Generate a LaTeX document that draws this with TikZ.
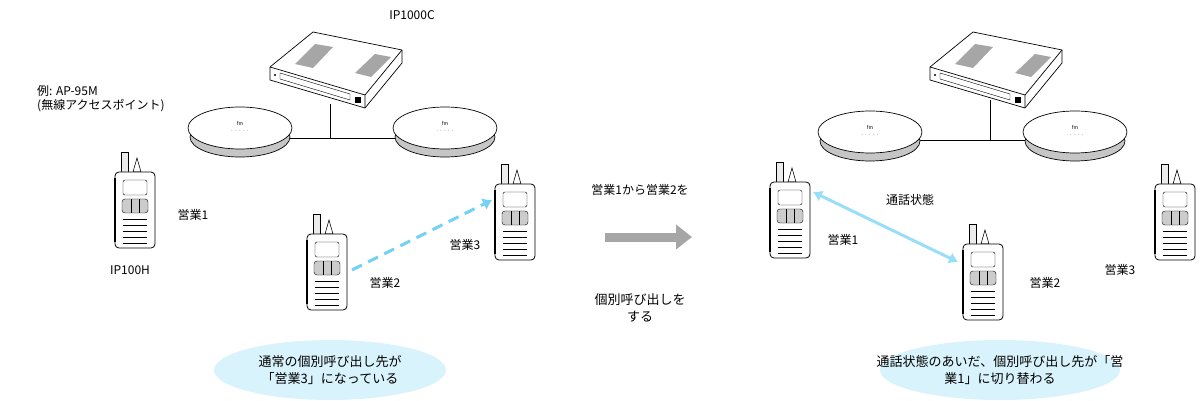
\documentclass[tikz,border=0pt]{standalone}
\usepackage{fontspec}
\setmainfont{Noto Sans CJK JP}
\usetikzlibrary{arrows.meta,shapes.geometric}
\tikzset{
 lbl/.style={font=\fontsize{12}{14}\selectfont, inner sep=1pt},
 big/.style={font=\fontsize{13}{17}\selectfont, inner sep=1pt},
 bubble/.style={fill=cyan!15, draw=none},
 pics/radio/.style={code={
  \draw[fill=gray!15, line width=0.6pt] (-14,-48) rectangle (-7,-25);
  \draw[fill=white, line width=0.6pt] (-2,-28) -- (2,-42) -- (6,-28) -- cycle;
  \draw[fill=white, line width=0.8pt, rounded corners=4pt] (-20,-28) rectangle (20,48);
  \draw[fill=white, rounded corners=2pt] (-12,-20) rectangle (12,-5);
  \draw[fill=gray!40, rounded corners=3pt] (-13,-1) rectangle (13,13);
  \draw (-4,-1) -- (-4,13) (4,-1) -- (4,13);
  \foreach \yy in {19,25,31,37,43} \draw (-12,\yy) -- (12,\yy);
  \draw[line width=1.5pt] (-20,-22) -- (-20,42);
 }},
 pics/ap/.style={code={
  \draw[fill=gray!45, line width=0.7pt] (0,9) ellipse (50 and 20);
  \draw[fill=white, line width=0.7pt] (0,0) ellipse (52 and 21);
  \node[font=\tiny] at (0,-5) {\textit{fm}};
  \node[font=\tiny] at (0,3) {· · · · ·};
 }},
 pics/router/.style={code={
  \draw[fill=white, line width=0.7pt, line join=round] (-55,-3) -- (-12,-38) -- (77,-20) -- (77,-7) -- (40,38) -- (-55,10) -- cycle;
  \draw[line width=0.7pt, line join=round] (-55,-3) -- (40,25) -- (77,-20) (40,25) -- (40,38);
  \fill[gray!70] (-30,-6) -- (-10,-26) -- (8,-23) -- (-12,-2) -- cycle;
  \fill[gray!70] (30,3) -- (50,-16) -- (66,-13) -- (46,7) -- cycle;
  \draw (-45,3) -- (25,24) -- (25,30) -- (-45,9) -- cycle;
  \fill (-50,5) circle (1.2);
  \fill (30,27) rectangle (36,33);
 }}
}
\begin{document}
\begin{tikzpicture}[x=1pt,y=-1pt]
\useasboundingbox (0,0) rectangle (1203,401);
% ---------- left scene
\node[lbl] (ipc) at (412,15) {IP1000C};
\pic at (325,70) {router};
\coordinate (r1) at (330,104);
\coordinate (hub1) at (330,138);
\coordinate (apl) at (290,138);
\coordinate (apr) at (395,138);
\draw[line width=0.7pt] (r1) -- (hub1);
\draw[line width=0.7pt] (apl) -- (apr);
\pic at (240,128) {ap};
\pic at (445,128) {ap};
\node[lbl, align=left, anchor=west] (aplbl) at (36,99) {例: AP-95M\\(無線アクセスポイント)};
\pic at (135,200) {radio};
\pic at (327,262) {radio};
\pic at (515,212) {radio};
\node[lbl] (s1) at (193,215) {営業1};
\node[lbl] (iph) at (130,270) {IP100H};
\node[lbl] (s2) at (385,283) {営業2};
\node[lbl] (s3) at (465,245) {営業3};
\coordinate (d2) at (352,270);
\coordinate (d3) at (492,200);
\draw[cyan!55, line width=3pt, dash pattern=on 11pt off 7pt, -{Latex[length=9pt,width=13pt]}] (d2) -- (d3);
\node[bubble, ellipse, minimum width=232, minimum height=60] (b1) at (330,370) {};
\node[big, align=center] at (b1) {通常の個別呼び出し先が\\「営業3」になっている};
% ---------- middle
\node[lbl] (m1) at (640,190) {営業1から営業2を};
\coordinate (ga) at (605,237);
\coordinate (gb) at (692,237);
\draw[gray!70, line width=9pt, -{Triangle[length=16pt,width=24pt]}] (ga) -- (gb);
\node[big, align=center] (m2) at (640,308) {個別呼び出しを\\する};
% ---------- right scene
\coordinate (r2) at (990,100);
\coordinate (hub2) at (990,140);
\coordinate (apl2) at (920,140);
\coordinate (apr2) at (1025,140);
\draw[line width=0.7pt] (r2) -- (hub2);
\draw[line width=0.7pt] (apl2) -- (apr2);
\begin{scope}[shift={(985,70)}, scale=0.88]
\pic at (0,0) {router};
\end{scope}
\pic at (870,132) {ap};
\pic at (1075,132) {ap};
\pic at (790,210) {radio};
\pic at (983,272) {radio};
\pic at (1175,212) {radio};
\node[lbl] (t1) at (843,240) {営業1};
\node[lbl] (t2) at (1045,283) {営業2};
\node[lbl] (t3) at (1120,270) {営業3};
\node[lbl] (ts) at (910,200) {通話状態};
\coordinate (e1) at (813,192);
\coordinate (e2) at (958,262);
\draw[cyan!40, line width=3pt, {Latex[length=9pt,width=12pt]}-{Latex[length=9pt,width=12pt]}] (e1) -- (e2);
\node[bubble, ellipse, minimum width=240, minimum height=60] (b2) at (1000,370) {};
\node[big, align=center] at (b2) {通話状態のあいだ、個別呼び出し先が「営\\業1」に切り替わる};
\end{tikzpicture}
\end{document}
